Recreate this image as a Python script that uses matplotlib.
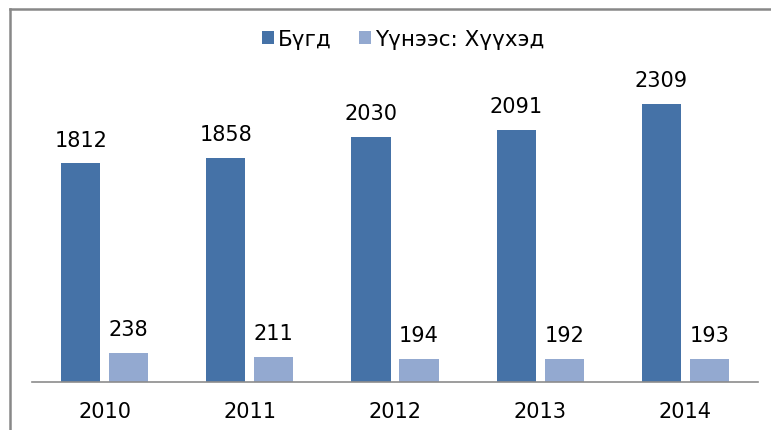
import matplotlib.pyplot as plt
from matplotlib.lines import Line2D
import numpy as np

# data
years = ['2010', '2011', '2012', '2013', '2014']
total = [1812, 1858, 2030, 2091, 2309]
children = [238, 211, 194, 192, 193]
labels = ['Бүгд', 'Үүнээс: Хүүхэд']

dark = '#4572A7'
light = '#93A9D0'

plt.rcParams['font.family'] = ['DejaVu Sans']

fig = plt.figure(figsize=(7.71, 4.31), dpi=100)
ax = fig.add_axes([32 / 771, 48 / 431, 726 / 771, 323 / 431])

x = np.arange(len(years))
w = 0.27
gap = 0.06
b1 = ax.bar(x - (w + gap) / 2, total, w, color=dark, label=labels[0])
b2 = ax.bar(x + (w + gap) / 2, children, w, color=light, label=labels[1])

for bars in (b1, b2):
    for r in bars:
        ax.annotate(str(int(r.get_height())),
                    (r.get_x() + r.get_width() / 2, r.get_height()),
                    xytext=(0, 10), textcoords='offset points',
                    ha='center', va='bottom', fontsize=15)

ax.set_xlim(-0.5, len(years) - 0.5)
ax.set_ylim(0, 2678)
ax.set_xticks(x)
ax.set_xticklabels(years, fontsize=15)
ax.tick_params(axis='x', length=0, pad=13.5)
ax.set_yticks([])
for s in ['top', 'right', 'left']:
    ax.spines[s].set_visible(False)
ax.spines['bottom'].set_color('#8c8c8c')
ax.spines['bottom'].set_linewidth(1.2)

fig.legend(loc='center', bbox_to_anchor=(403 / 771, 1 - 40 / 431), ncol=2,
           frameon=False, fontsize=15.5, handlelength=0.56, handleheight=0.56,
           handletextpad=0.18, columnspacing=1.3)

# outer frame (only top and left visible)
fig.add_artist(Line2D([9.5 / 771, 9.5 / 771], [0, 1 - 9.5 / 431],
                      transform=fig.transFigure, color='#888888', lw=1.8))
fig.add_artist(Line2D([9.5 / 771, 1], [1 - 9.5 / 431, 1 - 9.5 / 431],
                      transform=fig.transFigure, color='#888888', lw=1.8))

fig.savefig('out.png', dpi=100)
